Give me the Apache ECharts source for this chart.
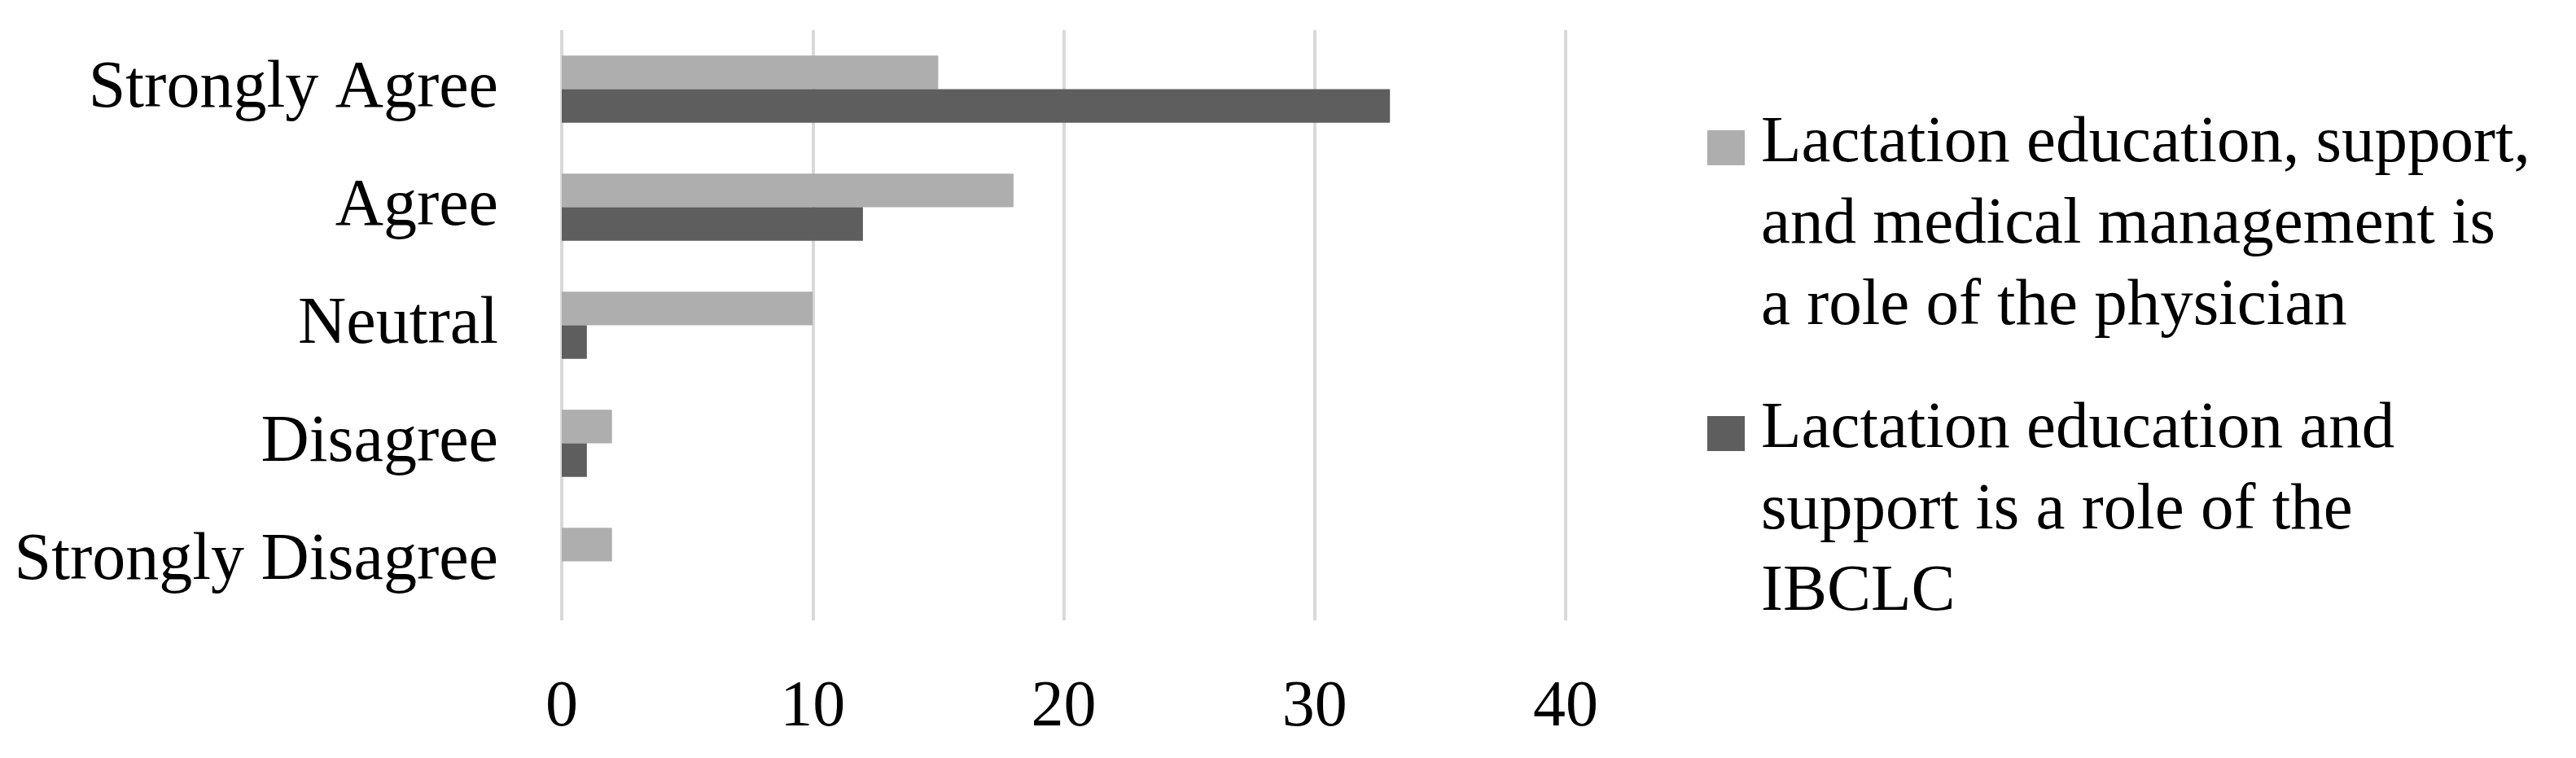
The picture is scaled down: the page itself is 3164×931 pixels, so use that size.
<!DOCTYPE html>
<html>
<head>
<meta charset="utf-8" />
<title>Lactation roles</title>
<script src="https://cdn.jsdelivr.net/npm/echarts@6/dist/echarts.min.js"></script>
<style>
  html,
  body {
    margin: 0;
    padding: 0;
    background: #ffffff;
  }
  #chart {
    width: 3164px;
    height: 931px;
  }
</style>
</head>
<body>
<div id="chart"></div>
<script>
// categories, top to bottom
const categories = [
  "Strongly Agree",
  "Agree",
  "Neutral",
  "Disagree",
  "Strongly Disagree"
];
const physicianName =
  "Lactation education, support, and medical management is a role of the physician";
const ibclcName = "Lactation education and support is a role of the IBCLC";
// legend text as it wraps in the picture
const physicianLines = [
  "Lactation education, support,",
  "and medical management is",
  "a role of the physician"
];
const ibclcLines = ["Lactation education and", "support is a role of the", "IBCLC"];
// counts
const physicianValues = [15, 18, 10, 2, 2];
const ibclcValues = [33, 12, 1, 1, 0];
// x axis ticks
const xTicks = [0, 10, 20, 30, 40];

const font = "Liberation Serif";
// square at the top of a tall box so it lines up with the first text line
const legendIcon = "path://M0,0 M0,33 L46,33 L46,76 L0,76 Z M61,300";

const chart = echarts.init(document.getElementById("chart"), null, {
  renderer: "canvas"
});

const option = {
  animation: false,
  backgroundColor: "#ffffff",
  grid: {
    left: 690,
    right: 3164 - 1923,
    top: 37,
    bottom: 931 - 762,
    containLabel: false
  },
  legend: {
    orient: "vertical",
    left: 2097,
    top: 127,
    padding: 0,
    itemGap: 51,
    itemWidth: 61,
    itemHeight: 300,
    icon: legendIcon,
    selectedMode: false,
    data: [physicianName, ibclcName],
    formatter: function(name) {
      return (name === physicianName ? physicianLines : ibclcLines).join("\n");
    },
    textStyle: {
      fontFamily: font,
      fontSize: 81,
      lineHeight: 100,
      color: "#000000"
    }
  },
  xAxis: {
    type: "value",
    min: xTicks[0],
    max: xTicks[xTicks.length - 1],
    interval: 10,
    axisLine: { show: false },
    axisTick: { show: false },
    axisLabel: {
      margin: 68,
      fontFamily: font,
      fontSize: 80,
      color: "#000000"
    },
    splitLine: {
      show: true,
      lineStyle: { color: "#D9D9D9", width: 4 }
    }
  },
  yAxis: {
    type: "category",
    inverse: true,
    data: categories,
    axisLine: { show: false },
    axisTick: { show: false },
    axisLabel: {
      margin: 78,
      fontFamily: font,
      fontSize: 82,
      color: "#000000"
    }
  },
  series: [
    {
      name: physicianName,
      type: "bar",
      data: physicianValues,
      barGap: "0%",
      barCategoryGap: "43%",
      itemStyle: { color: "#AEAEAE" }
    },
    {
      name: ibclcName,
      type: "bar",
      data: ibclcValues,
      barGap: "0%",
      barCategoryGap: "43%",
      itemStyle: { color: "#5E5E5E" }
    }
  ]
};

chart.setOption(option);
</script>
</body>
</html>
